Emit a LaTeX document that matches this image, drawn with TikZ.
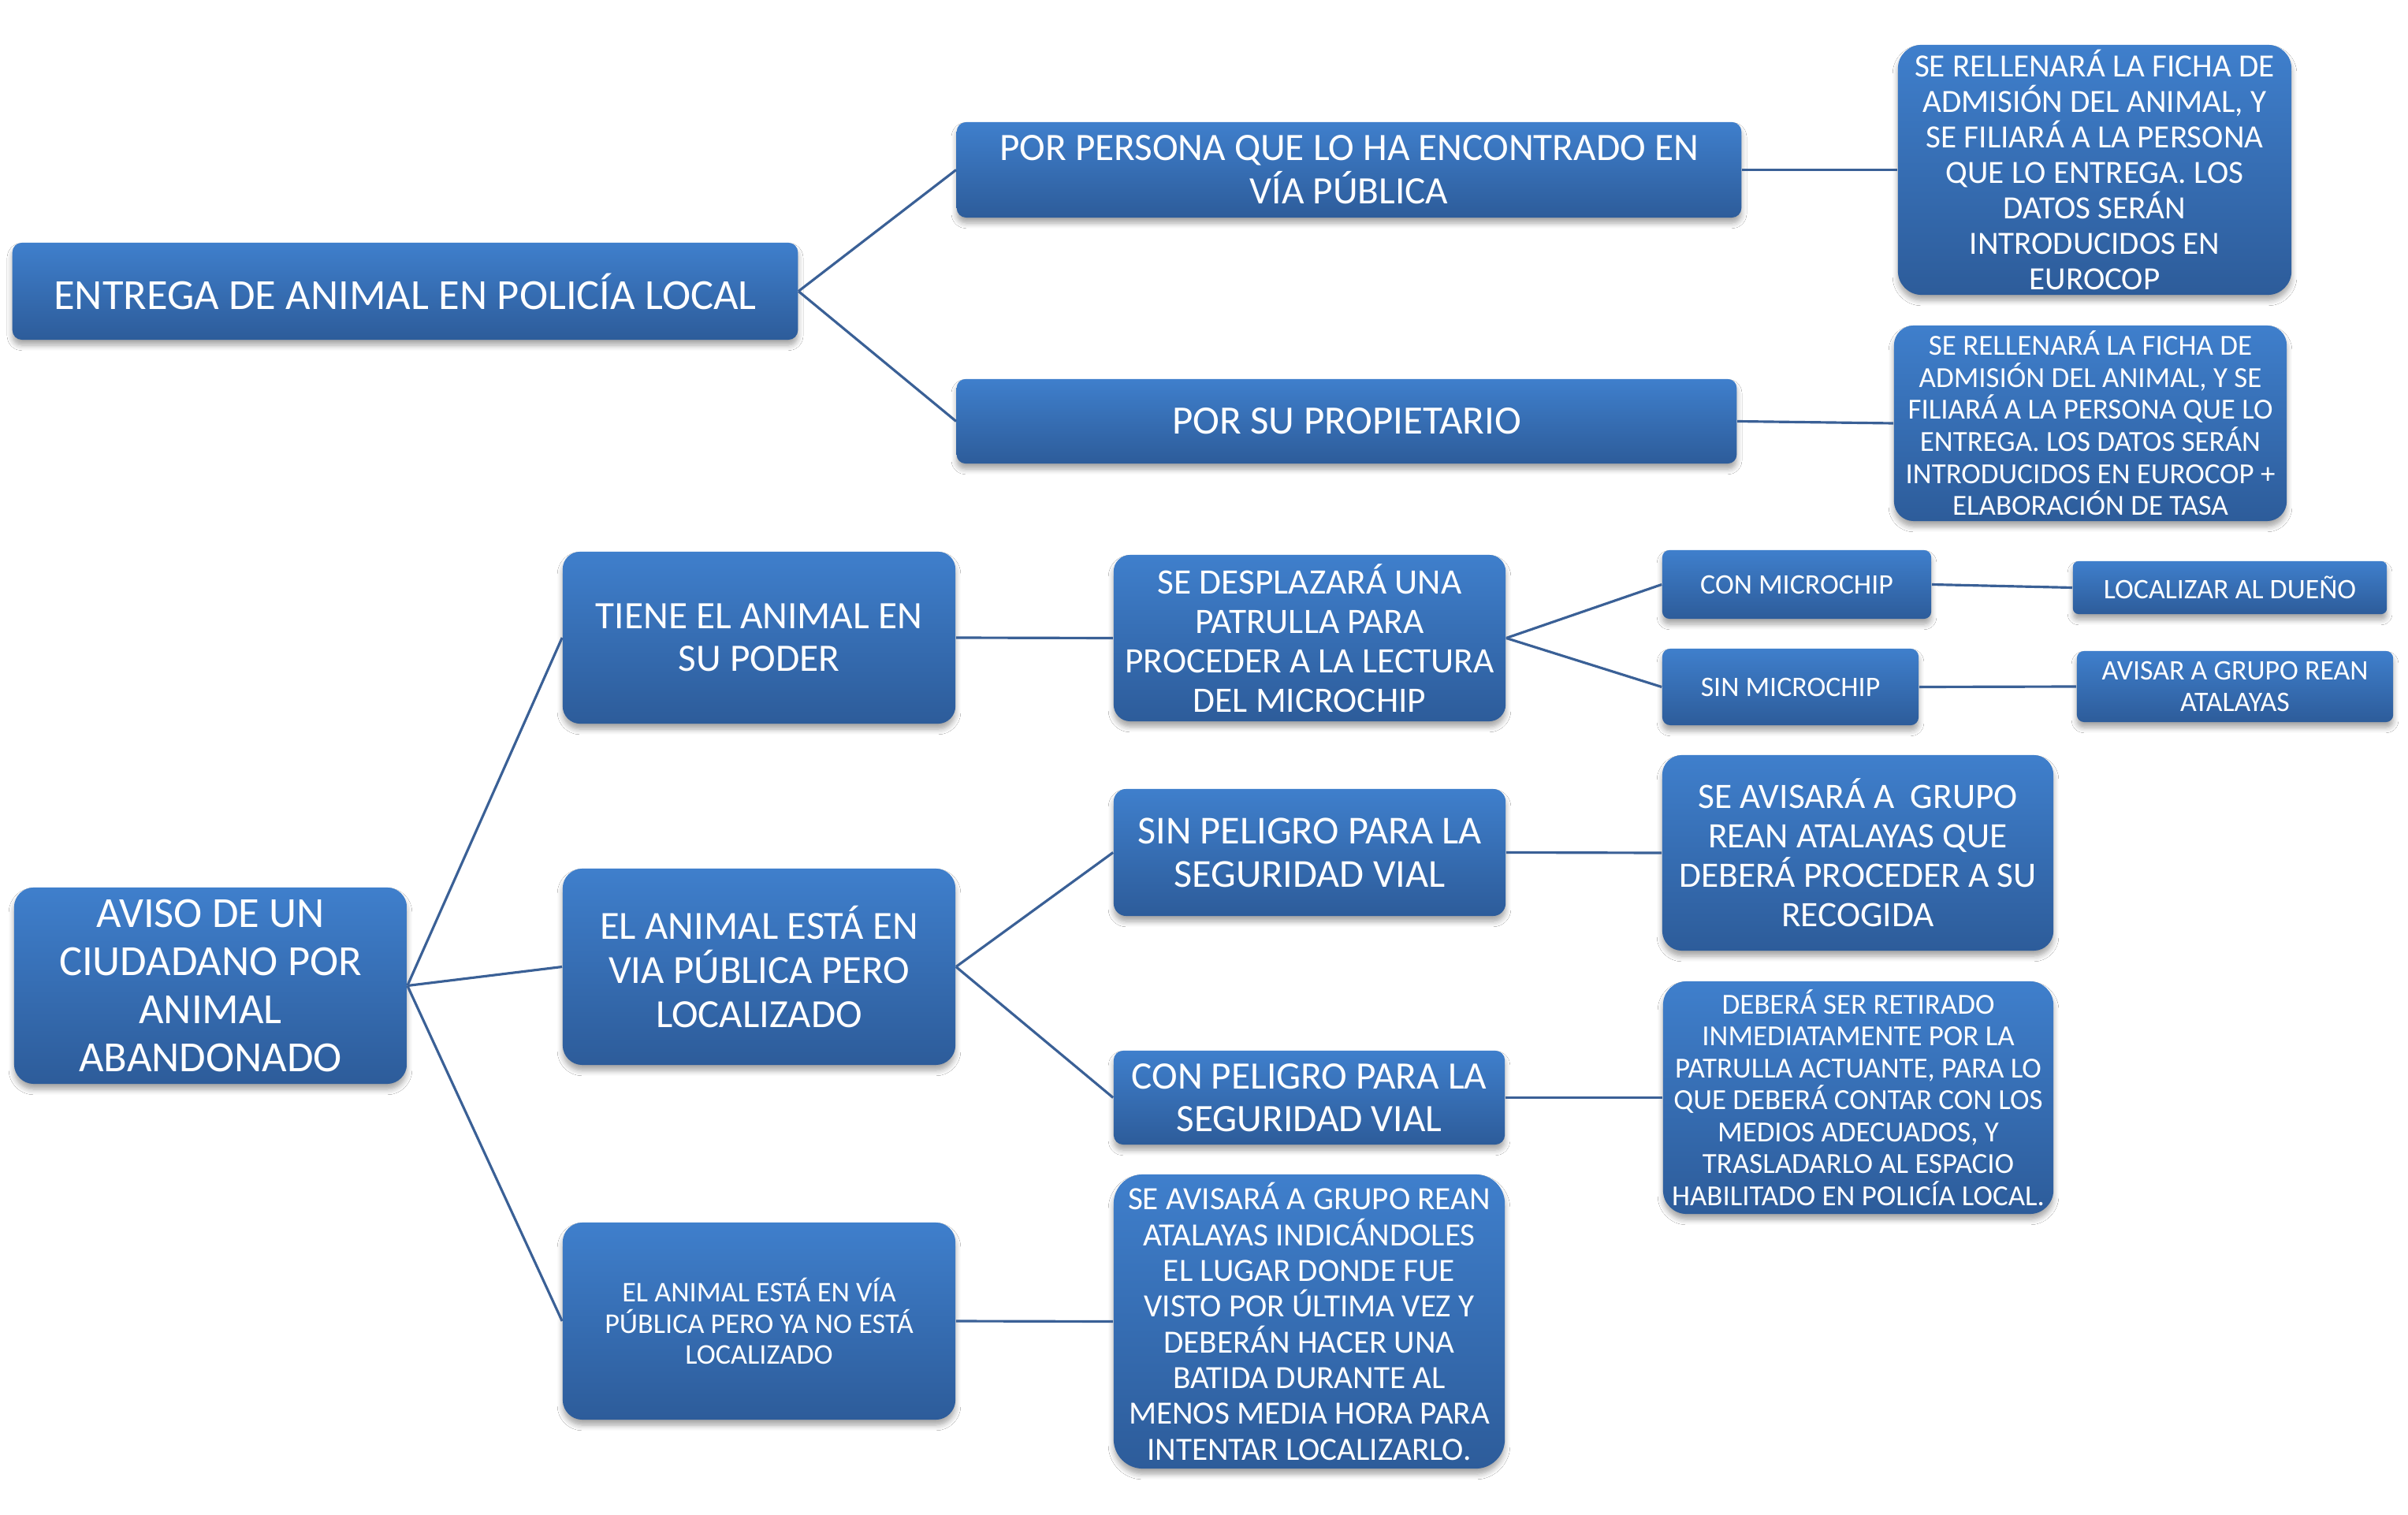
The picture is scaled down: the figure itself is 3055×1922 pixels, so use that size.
\documentclass[tikz,border=0pt]{standalone}
\usepackage{fontspec}
\setmainfont{Carlito}
\usetikzlibrary{shadows.blur}
\definecolor{cajaarriba}{RGB}{63,127,204}
\definecolor{cajaabajo}{RGB}{45,92,154}
\definecolor{linea}{RGB}{58,96,150}
\tikzset{
	caja/.style={rectangle, top color=cajaarriba, bottom color=cajaabajo, text=white, align=center, inner sep=0pt,
		blur shadow={shadow xshift=0pt, shadow yshift=-0.07cm, shadow blur steps=6, shadow opacity=35}},
	conector/.style={draw=linea, line width=0.9pt}
}
\begin{document}
\begin{tikzpicture}[x=0.01cm, y=-0.01cm]
	\fill[white] (0,0) rectangle (3055,1922);

	% entrega en policia local
	\node[caja, minimum width=9.96cm, minimum height=1.23cm, rounded corners=0.12cm, font=\fontsize{15.5}{17}\selectfont] (entrega) at (514,369.5) {ENTREGA DE ANIMAL EN POLICÍA LOCAL};
	\node[caja, minimum width=9.95cm, minimum height=1.21cm, rounded corners=0.12cm, font=\fontsize{14}{15.6}\selectfont] (persona) at (1711.5,215.5) {POR PERSONA QUE LO HA ENCONTRADO EN\\VÍA PÚBLICA};
	\node[caja, minimum width=9.89cm, minimum height=1.07cm, rounded corners=0.11cm, font=\fontsize{14.5}{16}\selectfont] (propietario) at (1708.5,534.5) {POR SU PROPIETARIO};
	\node[caja, minimum width=4.99cm, minimum height=3.17cm, rounded corners=0.3cm, font=\fontsize{11.7}{12.8}\selectfont] (ficha1) at (2657.5,215.5) {SE RELLENARÁ LA FICHA DE\\ADMISIÓN DEL ANIMAL, Y\\SE FILIARÁ A LA PERSONA\\QUE LO ENTREGA. LOS\\DATOS SERÁN\\INTRODUCIDOS EN\\EUROCOP};
	\node[caja, minimum width=4.98cm, minimum height=2.48cm, rounded corners=0.25cm, font=\fontsize{10.5}{11.55}\selectfont] (ficha2) at (2652,537) {SE RELLENARÁ LA FICHA DE\\ADMISIÓN DEL ANIMAL, Y SE\\FILIARÁ A LA PERSONA QUE LO\\ENTREGA. LOS DATOS SERÁN\\INTRODUCIDOS EN EUROCOP +\\ELABORACIÓN DE TASA};

	% aviso de un ciudadano
	\node[caja, minimum width=4.98cm, minimum height=2.49cm, rounded corners=0.25cm, font=\fontsize{15.5}{17.3}\selectfont] (aviso) at (267,1250.5) {AVISO DE UN\\CIUDADANO POR\\ANIMAL\\ABANDONADO};
	\node[caja, minimum width=4.98cm, minimum height=2.18cm, rounded corners=0.22cm, font=\fontsize{14}{15.3}\selectfont] (tiene) at (963,809) {TIENE EL ANIMAL EN\\SU PODER};
	\node[caja, minimum width=4.98cm, minimum height=2.49cm, rounded corners=0.25cm, font=\fontsize{14.4}{15.8}\selectfont] (viapub) at (963,1226.5) {EL ANIMAL ESTÁ EN\\VIA PÚBLICA PERO\\LOCALIZADO};
	\node[caja, minimum width=4.98cm, minimum height=2.5cm, rounded corners=0.25cm, font=\fontsize{10.3}{11.3}\selectfont] (nolocal) at (963,1676) {EL ANIMAL ESTÁ EN VÍA\\PÚBLICA PERO YA NO ESTÁ\\LOCALIZADO};
	\node[caja, minimum width=4.97cm, minimum height=2.11cm, rounded corners=0.21cm, font=\fontsize{12.9}{14.2}\selectfont] (desplaza) at (1661.5,809.5) {SE DESPLAZARÁ UNA\\PATRULLA PARA\\PROCEDER A LA LECTURA\\DEL MICROCHIP};
	\node[caja, minimum width=3.41cm, minimum height=0.87cm, rounded corners=0.09cm, font=\fontsize{10.2}{11.2}\selectfont] (conchip) at (2279.5,741.5) {CON MICROCHIP};
	\node[caja, minimum width=3.25cm, minimum height=0.97cm, rounded corners=0.1cm, font=\fontsize{10.2}{11.2}\selectfont] (sinchip) at (2271.5,871.5) {SIN MICROCHIP};
	\node[caja, minimum width=3.98cm, minimum height=0.67cm, rounded corners=0.07cm, font=\fontsize{10.2}{11.2}\selectfont] (localizar) at (2829,745.5) {LOCALIZAR AL DUEÑO};
	\node[caja, minimum width=4.01cm, minimum height=0.9cm, rounded corners=0.09cm, font=\fontsize{10.2}{11.2}\selectfont] (avisar) at (2835.5,871) {AVISAR A GRUPO REAN\\ATALAYAS};
	\node[caja, minimum width=4.97cm, minimum height=1.61cm, rounded corners=0.16cm, font=\fontsize{14.3}{15.7}\selectfont] (sinpel) at (1661.5,1081.5) {SIN PELIGRO PARA LA\\SEGURIDAD VIAL};
	\node[caja, minimum width=4.96cm, minimum height=1.19cm, rounded corners=0.12cm, font=\fontsize{14}{15.3}\selectfont] (conpel) at (1661,1392.5) {CON PELIGRO PARA LA\\SEGURIDAD VIAL};
	\node[caja, minimum width=4.96cm, minimum height=2.48cm, rounded corners=0.25cm, font=\fontsize{12.9}{14.2}\selectfont] (avisara) at (2357,1082) {SE AVISARÁ A\ \ GRUPO\\REAN ATALAYAS QUE\\DEBERÁ PROCEDER A SU\\RECOGIDA};
	\node[caja, minimum width=4.95cm, minimum height=2.95cm, rounded corners=0.3cm, font=\fontsize{10.5}{11.5}\selectfont] (retirado) at (2357.5,1392.5) {DEBERÁ SER RETIRADO\\INMEDIATAMENTE POR LA\\PATRULLA ACTUANTE, PARA LO\\QUE DEBERÁ CONTAR CON LOS\\MEDIOS ADECUADOS, Y\\TRASLADARLO AL ESPACIO\\HABILITADO EN POLICÍA LOCAL.};
	\node[caja, minimum width=4.96cm, minimum height=3.73cm, rounded corners=0.37cm, font=\fontsize{11.7}{12.9}\selectfont] (batida) at (1661,1676.5) {SE AVISARÁ A GRUPO REAN\\ATALAYAS INDICÁNDOLES\\EL LUGAR DONDE FUE\\VISTO POR ÚLTIMA VEZ Y\\DEBERÁN HACER UNA\\BATIDA DURANTE AL\\MENOS MEDIA HORA PARA\\INTENTAR LOCALIZARLO.};

	\path[conector]
	(entrega.east) edge (persona.west)
	(entrega.east) edge (propietario.west)
	(persona.east) edge (ficha1.west)
	(propietario.east) edge (ficha2.west)

	(aviso.east) edge (tiene.west)
	(aviso.east) edge (viapub.west)
	(aviso.east) edge (nolocal.west)
	(tiene.east) edge (desplaza.west)
	(desplaza.east) edge (conchip.west)
	(desplaza.east) edge (sinchip.west)
	(conchip.east) edge (localizar.west)
	(sinchip.east) edge (avisar.west)
	(viapub.east) edge (sinpel.west)
	(viapub.east) edge (conpel.west)
	(sinpel.east) edge (avisara.west)
	(conpel.east) edge (retirado.west)
	(nolocal.east) edge (batida.west)
	;
\end{tikzpicture}
\end{document}
